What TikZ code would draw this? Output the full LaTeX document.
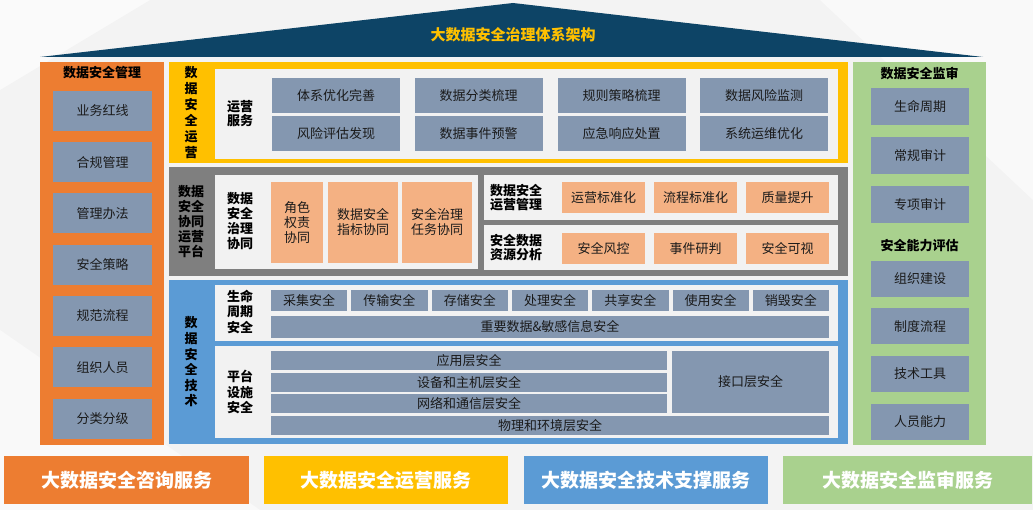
\documentclass[tikz,border=0pt]{standalone}
\usepackage{fontspec}
\setmainfont{Noto Sans CJK SC}
\usepackage{xcolor}
\usepackage{tikz}
\usetikzlibrary{calc,positioning}

\definecolor{cBack}{HTML}{F3F3F3}
\definecolor{cRoof}{HTML}{0D4466}
\definecolor{cOrange}{HTML}{ED7D31}
\definecolor{cYellow}{HTML}{FFC000}
\definecolor{cGray}{HTML}{7F7F7F}
\definecolor{cBlue}{HTML}{5B9BD5}
\definecolor{cGreen}{HTML}{A9D18E}
\definecolor{cLight}{HTML}{F2F2F2}
\definecolor{cCell}{HTML}{8497B0}
\definecolor{cPeach}{HTML}{F4B183}
\definecolor{cText}{HTML}{1A1A1A}

\tikzset{
  panel/.style={inner sep=0pt, outer sep=0pt, draw=none},
  cell/.style={panel, fill=cCell, text=cText, font=\fontsize{13}{14}\selectfont},
  peachcell/.style={panel, fill=cPeach, text=cText, align=center, font=\fontsize{13}{15}\selectfont},
  head/.style={inner sep=0pt, text=black, align=center, font=\bfseries\fontsize{13}{15}\selectfont},
  band/.style={panel, text=white, font=\bfseries\fontsize{19}{20}\selectfont},
}

\begin{document}
\begin{tikzpicture}[x=1pt,y=-1pt]
  \useasboundingbox (0,0) rectangle (1033,510);
  \fill[cBack] (0,0) rectangle (1033,510);
  \fill[white, opacity=0.6] (0,0) -- (150,0) -- (0,90) -- cycle;
  \fill[white, opacity=0.5] (1033,0) -- (820,0) -- (1033,200) -- cycle;
  \fill[white, opacity=0.5] (0,510) -- (0,330) -- (260,510) -- cycle;

  % roof
  \fill[cRoof] (40,57) -- (513,3) -- (983,57) -- cycle;
  \node[head, text=cYellow, font=\bfseries\fontsize{15}{16}\selectfont] (title) at (513,35) {大数据安全治理体系架构};

  % left column
  \node[panel, fill=cOrange, minimum width=124pt, minimum height=383pt] (mgmt) at (102,253.5) {};
  \node[head] (mgmt title) at (102,73) {数据安全管理};
  \foreach \t [count=\i] in {业务红线,合规管理,管理办法,安全策略,规范流程,组织人员,分类分级}
    \node[cell, minimum width=99pt, minimum height=40pt] (m\i) at (102.5,59.5+51.3*\i) {\t};

  % right column
  \node[panel, fill=cGreen, minimum width=133pt, minimum height=383pt] (audit) at (919.5,253.5) {};
  \node[head] (audit title) at (919.5,74) {数据安全监审};
  \foreach \t/\y [count=\i] in {生命周期/107,常规审计/156,专项审计/204.5}
    \node[cell, minimum width=98pt, minimum height=37pt] (a\i) at (920,\y) {\t};
  \node[head] (eval title) at (919.5,246) {安全能力评估};
  \foreach \t/\y [count=\i] in {组织建设/279,制度流程/326.5,技术工具/374,人员能力/421.5}
    \node[cell, minimum width=98pt, minimum height=36pt] (e\i) at (920,\y) {\t};

  % operation panel
  \node[panel, fill=cYellow, minimum width=679pt, minimum height=101pt] (ops) at (508.5,112.5) {};
  \node[head, font=\bfseries\fontsize{13}{16}\selectfont] (ops label) at (191,113) {数\\据\\安\\全\\运\\营};
  \node[panel, fill=cLight, minimum width=623pt, minimum height=90pt] (ops in) at (526.5,114) {};
  \node[head, font=\bfseries\fontsize{13}{14}\selectfont] (svc label) at (240,114) {运营\\服务};
  \foreach \t/\x/\y [count=\i] in {体系优化完善/336/95.5,数据分类梳理/478.5/95.5,规则策略梳理/621.5/95.5,数据风险监测/764/95.5,
                                   风险评估发现/336/133.5,数据事件预警/478.5/133.5,应急响应处置/621.5/133.5,系统运维优化/764/133.5}
    \node[cell, minimum width=128pt, minimum height=35pt] (s\i) at (\x,\y) {\t};

  % collaboration panel
  \node[panel, fill=cGray, minimum width=679pt, minimum height=109pt] (coop) at (508.5,221.5) {};
  \node[head] (coop label) at (191,222) {数据\\安全\\协同\\运营\\平台};
  \node[panel, fill=cLight, minimum width=263pt, minimum height=94pt] (gov in) at (346.5,222) {};
  \node[head] (gov label) at (240,221) {数据\\安全\\治理\\协同};
  \node[peachcell, minimum width=52pt, minimum height=81pt] (g1) at (297,222.5) {角色\\权责\\协同};
  \node[peachcell, minimum width=70pt, minimum height=81pt] (g2) at (363,222.5) {数据安全\\指标协同};
  \node[peachcell, minimum width=70pt, minimum height=81pt] (g3) at (437,222.5) {安全治理\\任务协同};
  \node[panel, fill=cLight, minimum width=354pt, minimum height=45pt] (om in) at (661,197.5) {};
  \node[panel, fill=cLight, minimum width=354pt, minimum height=45pt] (ra in) at (661,247.5) {};
  \node[head, font=\bfseries\fontsize{13}{14}\selectfont] (om label) at (516,197.5) {数据安全\\运营管理};
  \node[head, font=\bfseries\fontsize{13}{14}\selectfont] (ra label) at (516,248) {安全数据\\资源分析};
  \foreach \t/\x [count=\i] in {运营标准化/603.5,流程标准化/695.5,质量提升/787.5}
    \node[peachcell, minimum width=83pt, minimum height=31pt] (om\i) at (\x,197.5) {\t};
  \foreach \t/\x [count=\i] in {安全风控/603.5,事件研判/695.5,安全可视/787.5}
    \node[peachcell, minimum width=83pt, minimum height=31pt] (ra\i) at (\x,248.5) {\t};

  % technology panel
  \node[panel, fill=cBlue, minimum width=679pt, minimum height=164pt] (tech) at (508.5,362) {};
  \node[head, font=\bfseries\fontsize{13}{15.6}\selectfont] (tech label) at (191,362) {数\\据\\安\\全\\技\\术};
  \node[panel, fill=cLight, minimum width=623pt, minimum height=56pt] (life in) at (526.5,313) {};
  \node[panel, fill=cLight, minimum width=623pt, minimum height=92pt] (plat in) at (526.5,392) {};
  \node[head, font=\bfseries\fontsize{13}{15.5}\selectfont] (life label) at (240,311.5) {生命\\周期\\安全};
  \node[head, font=\bfseries\fontsize{13}{15.5}\selectfont] (plat label) at (240,392) {平台\\设施\\安全};
  \foreach \t [count=\i] in {采集安全,传输安全,存储安全,处理安全,共享安全,使用安全,销毁安全}
    \node[cell, minimum width=76.3pt, minimum height=21pt] (l\i) at (228.85+80.3*\i,300.5) {\t};
  \node[cell, minimum width=558pt, minimum height=22pt] (key data) at (550,327) {重要数据\&敏感信息安全};
  \node[cell, minimum width=396pt, minimum height=19pt] (app) at (469,360.5) {应用层安全};
  \node[cell, minimum width=396pt, minimum height=19pt] (host) at (469,382.5) {设备和主机层安全};
  \node[cell, minimum width=396pt, minimum height=19pt] (net) at (469,403.5) {网络和通信层安全};
  \node[cell, minimum width=157pt, minimum height=62pt] (iface) at (750.5,382) {接口层安全};
  \node[cell, minimum width=558pt, minimum height=19pt] (phys) at (550,425.5) {物理和环境层安全};

  % service bands
  \node[band, fill=cOrange, minimum width=245pt, minimum height=48pt] (b1) at (126.5,480) {大数据安全咨询服务};
  \node[band, fill=cYellow, minimum width=244pt, minimum height=48pt] (b2) at (386,480) {大数据安全运营服务};
  \node[band, fill=cBlue, minimum width=244pt, minimum height=48pt] (b3) at (646,480) {大数据安全技术支撑服务};
  \node[band, fill=cGreen, minimum width=249pt, minimum height=48pt] (b4) at (907.5,480) {大数据安全监审服务};
\end{tikzpicture}
\end{document}
